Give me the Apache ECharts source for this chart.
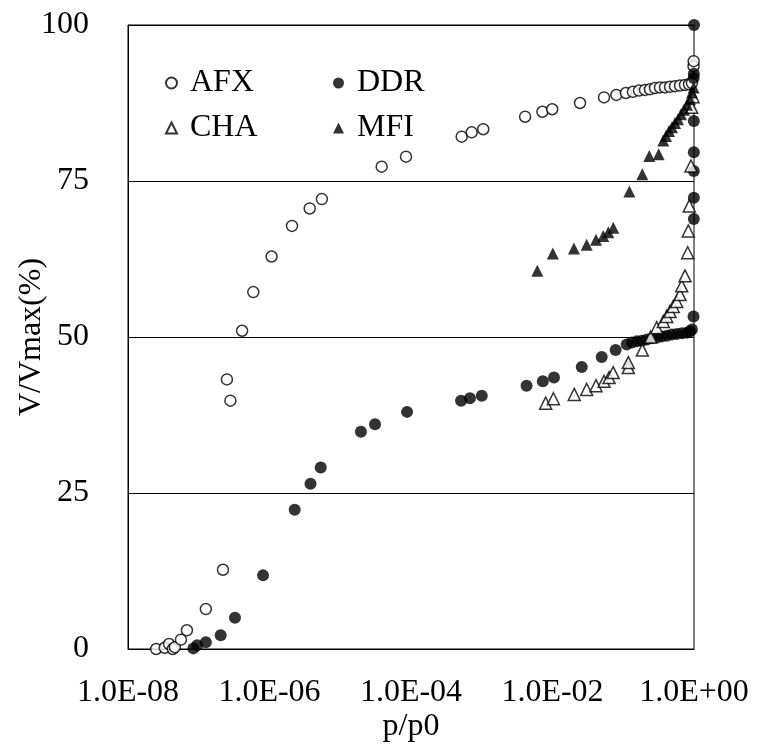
<!DOCTYPE html>
<html>
<head>
<meta charset="utf-8">
<script src="https://cdn.jsdelivr.net/npm/echarts@6/dist/echarts.min.js"></script>
<style>
html,body{margin:0;padding:0;background:#fff;}
#chart{width:757px;height:747px;}
</style>
</head>
<body>
<div id="chart"></div>
<script>
// ---- data ----
const seriesNames = ['AFX', 'DDR', 'CHA', 'MFI'];
const yTicks = [0, 25, 50, 75, 100];

const afxX = [2.5e-8, 3.3e-8, 3.8e-8, 4.3e-8, 4.6e-8, 5.6e-8, 6.8e-8, 1.26e-7, 2.2e-7, 2.5e-7, 2.8e-7, 4.1e-7, 5.9e-7, 1.07e-6, 2.08e-6, 3.7e-6, 5.5e-6, 3.85e-5, 8.5e-5, 5.2e-4, 7.2e-4, 1.05e-3, 4.1e-3, 7.2e-3, 9.9e-3, 0.0245, 0.0535, 0.080, 0.109, 0.137, 0.167, 0.203, 0.239, 0.281, 0.331, 0.389, 0.458, 0.539, 0.634, 0.746, 0.850, 0.935, 0.985, 0.99];
const afxY = [0, 0.2, 0.8, 0, 0.3, 1.5, 3.0, 6.4, 12.7, 43.2, 39.8, 51.0, 57.2, 62.9, 67.8, 70.6, 72.1, 77.3, 78.9, 82.1, 82.8, 83.3, 85.3, 86.1, 86.5, 87.5, 88.4, 88.8, 89.1, 89.3, 89.5, 89.6, 89.7, 89.9, 90.0, 90.0, 90.1, 90.2, 90.3, 90.4, 90.5, 90.7, 93.4, 94.2];

const ddrX = [8.4e-8, 9.5e-8, 1.26e-7, 2.04e-7, 3.25e-7, 8.1e-7, 2.27e-6, 3.8e-6, 5.3e-6, 1.96e-5, 3.1e-5, 8.8e-5, 5.1e-4, 6.8e-4, 1.0e-3, 4.3e-3, 7.3e-3, 0.0105, 0.0259, 0.0496, 0.078, 0.112, 0.133, 0.156, 0.184, 0.216, 0.255, 0.300, 0.353, 0.415, 0.489, 0.575, 0.677, 0.796, 0.877, 0.935, 0.985, 0.995, 0.995, 0.995, 0.995, 0.995, 0.99, 0.995, 1.0];
const ddrY = [0.1, 0.6, 1.1, 2.2, 5.0, 11.8, 22.3, 26.5, 29.1, 34.8, 36.0, 38.0, 39.8, 40.2, 40.6, 42.2, 42.9, 43.5, 45.2, 46.8, 47.9, 48.8, 49.1, 49.3, 49.4, 49.6, 49.8, 49.9, 50.1, 50.2, 50.4, 50.5, 50.6, 50.7, 50.9, 51.2, 53.3, 68.9, 72.3, 76.6, 79.6, 84.6, 91.5, 92.2, 100];

const chaX = [8.0e-3, 0.0103, 0.0203, 0.0304, 0.0412, 0.0535, 0.063, 0.072, 0.118, 0.118, 0.186, 0.244, 0.297, 0.368, 0.411, 0.458, 0.509, 0.569, 0.634, 0.670, 0.746, 0.814, 0.830, 0.857, 0.906, 0.927, 0.97];
const chaY = [39.4, 40.1, 40.8, 41.6, 42.2, 42.9, 43.5, 44.3, 45.1, 45.9, 47.9, 50.0, 51.5, 52.5, 53.3, 54.1, 54.9, 55.7, 56.8, 58.2, 59.8, 63.5, 67.0, 71.0, 77.4, 86.8, 88.5];

const mfiX = [6.1e-3, 0.0101, 0.0201, 0.0304, 0.0412, 0.0522, 0.0615, 0.0723, 0.122, 0.186, 0.233, 0.317, 0.368, 0.402, 0.443, 0.489, 0.539, 0.594, 0.655, 0.722, 0.796, 0.877, 0.935, 0.99];
const mfiY = [60.6, 63.4, 64.2, 64.8, 65.6, 66.2, 66.8, 67.5, 73.3, 76.1, 79.0, 79.3, 81.5, 82.2, 83.0, 83.6, 84.3, 84.9, 85.7, 86.4, 87.2, 88.1, 89.2, 90.0];

// ---- build ----
const zip = (xs, ys) => xs.map((x, i) => [x, ys[i]]);
const FONT = "'Liberation Serif', 'Times New Roman', serif";

// label every second decade (1.0E-08, 1.0E-06, ...)
function fmtExp(v) {
  const e = Math.round(Math.log10(v));
  if (e % 2 !== 0) return '';
  return '1.0E' + (e < 0 ? '-' : '+') + String(Math.abs(e)).padStart(2, '0');
}

const openStyle = { color: '#ffffff', borderColor: '#000000', borderWidth: 1.5 };
const fillStyle = { color: '#000000', borderColor: '#000000', borderWidth: 0 };

const legendText = { fontFamily: FONT, fontSize: 32, color: '#000', padding: [0, 0, 0, 8] };

const chart = echarts.init(document.getElementById('chart'), null, { renderer: 'canvas' });
chart.setOption({
  animation: false,
  backgroundColor: '#ffffff',
  textStyle: { fontFamily: FONT },
  grid: {
    left: 128, right: 63, top: 25, bottom: 98,
    show: true, borderColor: '#000', borderWidth: 1,
    containLabel: false, outerBoundsMode: 'none'
  },
  legend: [
    {
      data: ['AFX', 'CHA'], orient: 'vertical', left: 160, top: 62,
      itemWidth: 11, itemHeight: 11, itemGap: 13, textStyle: legendText
    },
    {
      data: ['DDR', 'MFI'], orient: 'vertical', left: 328, top: 62,
      itemWidth: 11, itemHeight: 11, itemGap: 13, textStyle: legendText
    }
  ],
  xAxis: {
    type: 'log', logBase: 10, min: 1e-8, max: 1, splitNumber: 8,
    name: 'p/p0', nameLocation: 'middle', nameGap: 62, nameMoveOverlap: false,
    nameTextStyle: { fontFamily: FONT, fontSize: 32, color: '#000' },
    axisLine: { show: true, lineStyle: { color: '#000', width: 1 } },
    axisTick: { show: false },
    splitLine: { show: false },
    minorTick: { show: false },
    axisLabel: { fontFamily: FONT, fontSize: 32, color: '#000', margin: 28, formatter: fmtExp, showMinLabel: true, showMaxLabel: true, hideOverlap: false }
  },
  yAxis: {
    type: 'value', min: yTicks[0], max: yTicks[yTicks.length - 1], interval: 25,
    name: 'V/Vmax(%)', nameLocation: 'middle', nameGap: 80, nameMoveOverlap: false,
    nameTextStyle: { fontFamily: FONT, fontSize: 32, color: '#000' },
    axisLine: { show: true, lineStyle: { color: '#000', width: 1 } },
    axisTick: { show: false },
    splitLine: { show: true, lineStyle: { color: '#000', width: 1 } },
    axisLabel: { fontFamily: FONT, fontSize: 32, color: '#000', margin: 39 }
  },
  series: [
    { name: seriesNames[0], type: 'scatter', symbol: 'circle', symbolSize: 11, itemStyle: openStyle, data: zip(afxX, afxY) },
    { name: seriesNames[1], type: 'scatter', symbol: 'circle', symbolSize: 12, itemStyle: fillStyle, data: zip(ddrX, ddrY) },
    { name: seriesNames[2], type: 'scatter', symbol: 'triangle', symbolSize: 12, itemStyle: openStyle, data: zip(chaX, chaY) },
    { name: seriesNames[3], type: 'scatter', symbol: 'triangle', symbolSize: 12, itemStyle: fillStyle, data: zip(mfiX, mfiY) }
  ]
});
</script>
</body>
</html>
